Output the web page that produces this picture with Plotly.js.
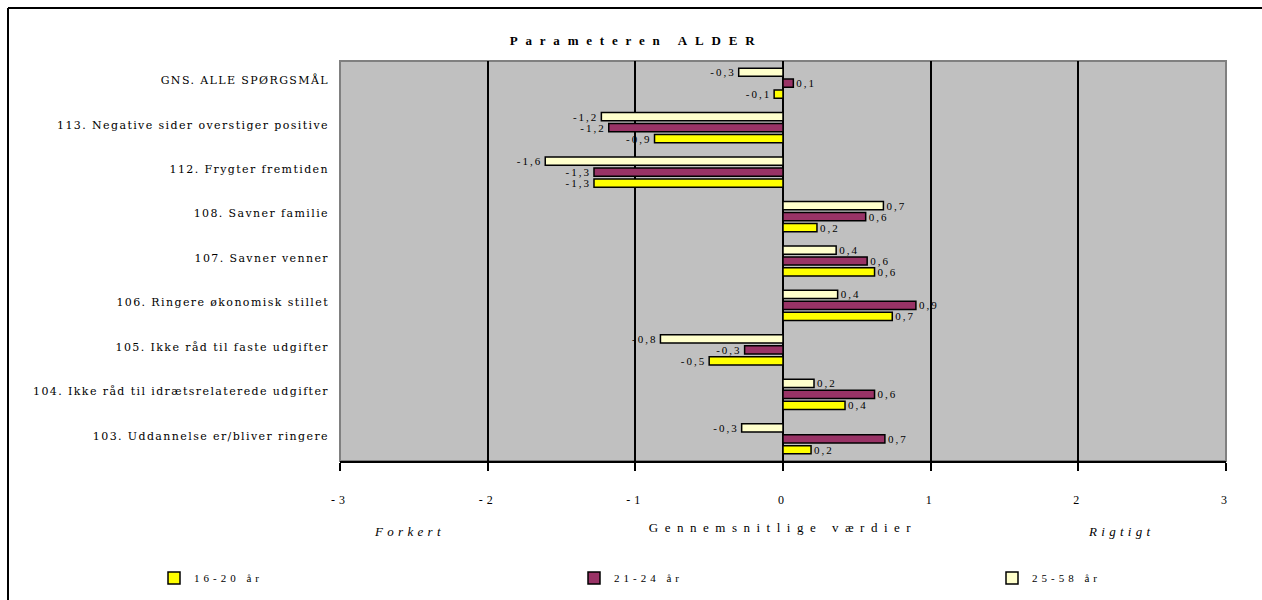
<!DOCTYPE html>
<html>
<head>
<meta charset="utf-8">
<script src="https://cdn.plot.ly/plotly-3.0.1.min.js"></script>
<style>
  html, body { margin: 0; padding: 0; background: #fff; }
  #chart { width: 1262px; height: 600px; }
  .gtitle { letter-spacing: 7.8px; }
  .ytick text { letter-spacing: 1.4px; }
  .xtick text { letter-spacing: 4px; }
  .xtitle { letter-spacing: 6.5px; }
  .legend text, .legend2 text, .legend3 text, text.legendtext {
    font-family: 'Liberation Serif', serif !important;
    font-size: 11px !important;
    letter-spacing: 4px !important;
  }
  .annotation-text { letter-spacing: 4.3px; }
  text.bartext { letter-spacing: 2px; }
</style>
</head>
<body>
<div id="chart"></div>
<script>
// ---- data (top-to-bottom reading order) ----
const categories = [
  'GNS. ALLE SPØRGSMÅL',
  '113. Negative sider overstiger positive',
  '112. Frygter fremtiden',
  '108. Savner familie',
  '107. Savner venner',
  '106. Ringere økonomisk stillet',
  '105. Ikke råd til faste udgifter',
  '104. Ikke råd til idrætsrelaterede udgifter',
  '103. Uddannelse er/bliver ringere'
];
const age16_20 = [-0.06, -0.87, -1.28, 0.23, 0.62, 0.74, -0.50, 0.42, 0.19];
const age21_24 = [0.07, -1.18, -1.28, 0.56, 0.57, 0.90, -0.26, 0.62, 0.69];
const age25_58 = [-0.30, -1.23, -1.61, 0.68, 0.36, 0.37, -0.83, 0.21, -0.28];
const seriesNames = ['16-20 år', '21-24 år', '25-58 år'];
const xTickVals = [-3, -2, -1, 0, 1, 2, 3];
const xTickText = ['-3', '-2', '-1', '0', '1', '2', '3'];
const chartTitle = 'Parameteren ALDER';
const xTitle = 'Gennemsnitlige værdier';
const leftNote = 'Forkert';
const rightNote = 'Rigtigt';

const fmt = v => v.toFixed(1).replace('.', ',');
const serif = 'DejaVu Serif, Liberation Serif, serif';
const legendFont = { family: 'Liberation Serif, serif', size: 11, color: '#000' };

function barTrace(vals, name, color, legendId) {
  return {
    type: 'bar', orientation: 'h',
    x: vals, y: categories, name: name, legend: legendId,
    text: vals.map(fmt), textposition: 'outside',
    constraintext: 'none', cliponaxis: false,
    textfont: { family: 'Liberation Serif, serif', size: 11, color: '#000' },
    marker: { color: color, line: { color: '#000', width: 1.5 } },
    hoverinfo: 'skip'
  };
}

const data = [
  barTrace(age25_58, seriesNames[2], '#ffffcc', 'legend3'),
  barTrace(age21_24, seriesNames[1], '#993366', 'legend2'),
  barTrace(age16_20, seriesNames[0], '#ffff00', 'legend')
];

const boundaryTicks = categories.map((_, i) => i - 0.5).concat([categories.length - 0.5]);

function legendAt(px) {
  return {
    orientation: 'h',
    x: (px - 340) / 886, xanchor: 'left', y: (461 - 578) / 400, yanchor: 'middle',
    entrywidth: 150, entrywidthmode: 'pixels',
    bgcolor: 'rgba(0,0,0,0)',
    font: Object.assign({}, legendFont)
  };
}

const layout = {
  width: 1262, height: 600,
  margin: { l: 340, r: 36, t: 61, b: 139, autoexpand: false },
  font: { family: 'Liberation Serif, serif', size: 11, color: '#000' },
  paper_bgcolor: '#ffffff',
  plot_bgcolor: '#c0c0c0',
  separators: ', ',
  barmode: 'group',
  bargap: 0.26,
  bargroupgap: 0.25,
  showlegend: true,
  title: {
    text: chartTitle,
    x: 0.504, xref: 'container', xanchor: 'center',
    y: 1 - 40 / 600, yref: 'container', yanchor: 'middle',
    font: { family: 'Liberation Serif, serif', size: 13, weight: 'bold', color: '#000' }
  },
  xaxis: {
    range: [-3, 3], fixedrange: true,
    tickmode: 'array', tickvals: xTickVals, ticktext: xTickText,
    showgrid: true, gridcolor: '#000', gridwidth: 2,
    zeroline: true, zerolinecolor: '#000', zerolinewidth: 2,
    showline: true, linecolor: '#000', linewidth: 2,
    ticks: 'outside', ticklen: 8, tickwidth: 2, tickcolor: '#000',
    ticklabelstandoff: 19,
    tickfont: { family: 'Liberation Serif, serif', size: 12, color: '#000' },
    automargin: false,
    title: { text: xTitle, standoff: 16, font: { family: 'Liberation Serif, serif', size: 13, color: '#000' } }
  },
  yaxis: {
    type: 'category', categoryorder: 'array', categoryarray: categories,
    range: [categories.length - 0.5, -0.5], fixedrange: true,
    showgrid: false, zeroline: false, showline: false,
    ticks: '', ticklabelstandoff: 10, ticklabelshift: 3, automargin: false,
    tickfont: { family: serif, size: 11, color: '#000' }
  },
  yaxis2: {
    overlaying: 'y', anchor: 'free', position: 0.5, side: 'left',
    range: [categories.length - 0.5, -0.5], fixedrange: true,
    tickmode: 'array', tickvals: boundaryTicks,
    showticklabels: false, showgrid: false, zeroline: false, showline: false,
    ticks: 'outside', ticklen: 5, tickwidth: 2, tickcolor: '#000'
  },
  legend: legendAt(154),
  legend2: legendAt(574),
  legend3: legendAt(992),
  annotations: [
    { text: leftNote, xref: 'paper', yref: 'paper', x: 0.079, y: -0.175, showarrow: false,
      xanchor: 'center', yanchor: 'middle',
      font: { family: 'Liberation Serif, serif', size: 13, style: 'italic', color: '#000' } },
    { text: rightNote, xref: 'paper', yref: 'paper', x: 0.8826, y: -0.175, showarrow: false,
      xanchor: 'center', yanchor: 'middle',
      font: { family: 'Liberation Serif, serif', size: 13, style: 'italic', color: '#000' } }
  ],
  shapes: [
    { type: 'rect', xref: 'paper', yref: 'paper', x0: 0, x1: 1, y0: 0, y1: 1,
      line: { color: '#808080', width: 2 }, layer: 'below' },
    { type: 'line', xref: 'paper', yref: 'paper',
      x0: (8 - 340) / 886, x1: (8 - 340) / 886, y0: -0.4, y1: 1 + (61 - 8) / 400,
      line: { color: '#000', width: 2 }, layer: 'above' },
    { type: 'line', xref: 'paper', yref: 'paper',
      x0: (8 - 340) / 886, x1: 1.1, y0: 1 + (61 - 8) / 400, y1: 1 + (61 - 8) / 400,
      line: { color: '#000', width: 2 }, layer: 'above' }
  ]
};

Plotly.newPlot('chart', data, layout, { displayModeBar: false, staticPlot: true });
</script>
</body>
</html>
